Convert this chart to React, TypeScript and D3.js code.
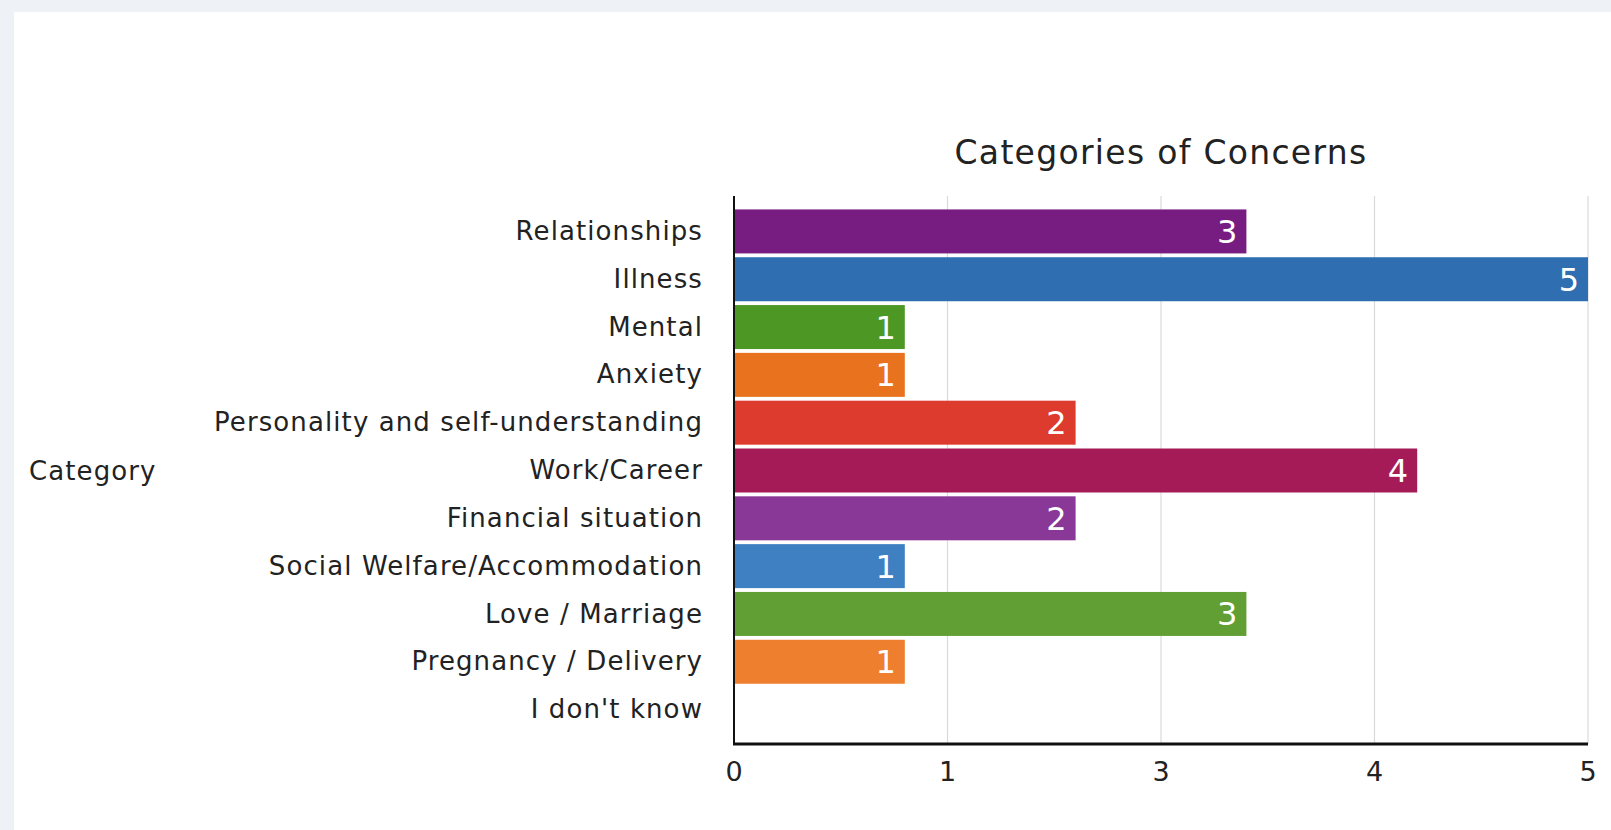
import React from "react";
import * as d3 from "d3";

const title = "Categories of Concerns";
const axisTitle = "Category";
const categories = [
  "Relationships",
  "Illness",
  "Mental",
  "Anxiety",
  "Personality and self-understanding",
  "Work/Career",
  "Financial situation",
  "Social Welfare/Accommodation",
  "Love / Marriage",
  "Pregnancy / Delivery",
  "I don't know",
];
const values = [3, 5, 1, 1, 2, 4, 2, 1, 3, 1, 0];
const barColors = [
  "#771c81",
  "#2f6eb0",
  "#4d9824",
  "#e8721e",
  "#dc3b2d",
  "#a41b57",
  "#8a3898",
  "#3f80c2",
  "#619f35",
  "#ee7f2e",
  "#999999",
];
const tickValues = [0, 1.25, 2.5, 3.75, 5];
const tickLabels = ["0", "1", "3", "4", "5"];

const W = 1611;
const H = 830;
const FONT = "'DejaVu Sans', 'Liberation Sans', sans-serif";

export default function App() {
  const x = d3.scaleLinear().domain([0, 5]).range([734, 1588]);
  const y = d3
    .scaleBand<string>()
    .domain(categories)
    .range([197, 744])
    .paddingInner(0.08)
    .paddingOuter(0.26);
  const plotTop = 196;
  const plotBottom = 744;
  return (
    <svg
      width={W}
      height={H}
      style={{ position: "absolute", left: 0, top: 0, display: "block" }}
      fontFamily={FONT}
    >
      <rect x={0} y={0} width={W} height={H} fill="#eef1f6" />
      <rect x={14} y={12} width={W - 14} height={H - 12} fill="#ffffff" />

      {/* title */}
      <text
        x={(x.range()[0] + x.range()[1]) / 2}
        y={164}
        textAnchor="middle"
        fontSize={33}
        letterSpacing={1.3}
        fill="#222"
      >
        {title}
      </text>

      {/* gridlines */}
      {tickValues.slice(1).map((t) => (
        <line
          key={"g" + t}
          x1={x(t)}
          x2={x(t)}
          y1={plotTop}
          y2={plotBottom}
          stroke="#dadada"
          strokeWidth={1.2}
        />
      ))}

      {/* bars */}
      {categories.map((c, i) =>
        values[i] > 0 ? (
          <g key={c}>
            <rect
              x={x(0)}
              y={y(c)!}
              width={x(values[i]) - x(0)}
              height={y.bandwidth()}
              fill={barColors[i]}
            />
            <text
              x={x(values[i]) - 9}
              y={y(c)! + y.bandwidth() / 2}
              dy="0.36em"
              textAnchor="end"
              fontSize={32}
              fill="#ffffff"
            >
              {d3.format("d")(values[i])}
            </text>
          </g>
        ) : null
      )}

      {/* category labels */}
      {categories.map((c) => (
        <text
          key={"l" + c}
          x={x(0) - 31}
          y={y(c)! + y.bandwidth() / 2}
          dy="0.33em"
          textAnchor="end"
          fontSize={26}
          letterSpacing={1.1}
          fill="#222"
        >
          {c}
        </text>
      ))}

      {/* axis title */}
      <text
        x={29}
        y={y(categories[5])! + y.bandwidth() / 2}
        dy="0.38em"
        fontSize={26}
        letterSpacing={1.1}
        fill="#222"
      >
        {axisTitle}
      </text>

      {/* axes */}
      <line x1={x(0)} x2={x(0)} y1={plotTop} y2={plotBottom} stroke="#111" strokeWidth={2} />
      <line x1={x(0) - 1} x2={x(5)} y1={plotBottom} y2={plotBottom} stroke="#111" strokeWidth={3} />

      {/* tick labels */}
      {tickValues.map((t, i) => (
        <text
          key={"t" + t}
          x={x(t)}
          y={781}
          textAnchor="middle"
          fontSize={27}
          fill="#222"
        >
          {tickLabels[i]}
        </text>
      ))}
    </svg>
  );
}
